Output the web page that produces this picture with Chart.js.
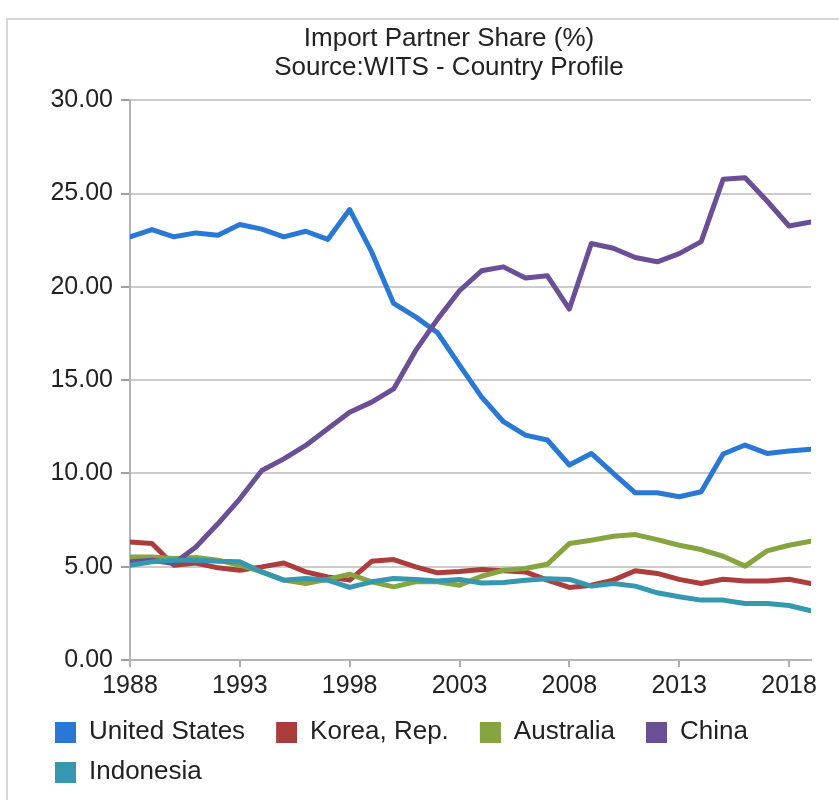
<!DOCTYPE html>
<html>
<head>
<meta charset="utf-8">
<script src="https://cdn.jsdelivr.net/npm/chart.js@4.4.1/dist/chart.umd.min.js"></script>
<style>
  html, body { margin: 0; padding: 0; background: #fff; overflow: hidden; width: 839px; height: 800px; }
  #frame { position: absolute; left: 6px; top: 18px; width: 840px; height: 790px;
           border-left: 2px solid #d6d6d6; border-top: 2px solid #d6d6d6; }
  #wrap { position: absolute; left: 0; top: 0; width: 839px; height: 800px; }
</style>
</head>
<body>
<div id="frame"></div>
<div id="wrap"><canvas id="c" width="839" height="800"></canvas></div>
<script>
// ---- data ----
const titleLines = ["Import Partner Share (%)", "Source:WITS - Country Profile"];
const years = [1988, 1989, 1990, 1991, 1992, 1993, 1994, 1995, 1996, 1997,
               1998, 1999, 2000, 2001, 2002, 2003, 2004, 2005, 2006, 2007,
               2008, 2009, 2010, 2011, 2012, 2013, 2014, 2015, 2016, 2017,
               2018, 2019];
const xTickYears = [1988, 1993, 1998, 2003, 2008, 2013, 2018];
const yTickValues = [0, 5, 10, 15, 20, 25, 30];
const seriesNames = ["United States", "Korea, Rep.", "Australia", "China", "Indonesia"];
const unitedStates = [22.68, 23.07, 22.68, 22.89, 22.77, 23.34, 23.09, 22.68, 22.98, 22.54,
                      24.14, 21.87, 19.11, 18.39, 17.54, 15.80, 14.10, 12.77, 12.05, 11.79,
                      10.45, 11.07, 10.00, 8.96, 8.96, 8.75, 9.02, 11.04, 11.52, 11.07,
                      11.20, 11.30];
const koreaRep = [6.33, 6.24, 5.08, 5.20, 4.94, 4.81, 4.99, 5.20, 4.72, 4.45,
                  4.28, 5.29, 5.38, 4.99, 4.67, 4.74, 4.85, 4.78, 4.72, 4.28,
                  3.89, 4.01, 4.28, 4.78, 4.64, 4.32, 4.10, 4.33, 4.24, 4.24,
                  4.33, 4.10];
const australia = [5.52, 5.52, 5.44, 5.50, 5.35, 5.08, 4.72, 4.28, 4.10, 4.32,
                   4.60, 4.19, 3.92, 4.19, 4.19, 4.01, 4.49, 4.81, 4.90, 5.13,
                   6.24, 6.42, 6.63, 6.72, 6.45, 6.15, 5.92, 5.56, 5.03, 5.85,
                   6.15, 6.36];
const china = [5.26, 5.35, 5.17, 6.06, 7.30, 8.64, 10.16, 10.78, 11.50, 12.39,
               13.28, 13.82, 14.53, 16.58, 18.27, 19.79, 20.86, 21.07, 20.47, 20.59,
               18.81, 22.32, 22.07, 21.57, 21.34, 21.78, 22.42, 25.76, 25.85, 24.60,
               23.26, 23.48];
const indonesia = [5.08, 5.26, 5.35, 5.35, 5.29, 5.26, 4.72, 4.28, 4.37, 4.28,
                   3.89, 4.19, 4.37, 4.32, 4.24, 4.32, 4.13, 4.15, 4.28, 4.35,
                   4.32, 3.96, 4.10, 3.96, 3.60, 3.39, 3.21, 3.21, 3.03, 3.03,
                   2.92, 2.64];
const seriesValues = [unitedStates, koreaRep, australia, china, indonesia];

// ---- styles ----
const FONT = "'Liberation Sans', Arial, sans-serif";
const lineColors = ["#2a78d6", "#ad3c3c", "#86a540", "#6b4f96", "#3597b0"];
const drawOrder = [2, 4, 3, 1, 0];

function swatch(color) {
  const c = document.createElement('canvas');
  c.width = 38; c.height = 21;
  const g = c.getContext('2d');
  g.fillStyle = color;
  g.fillRect(17, 0, 21, 21);
  return c;
}
const legendSwatches = lineColors.map(swatch);

const titleShift = {
  id: 'titleShift',
  afterLayout(chart) {
    if (chart.titleBlock) {
      chart.titleBlock.left = 87;
      chart.titleBlock.right = chart.chartArea.right;
    }
  }
};

const ctx = document.getElementById('c').getContext('2d');
new Chart(ctx, {
  type: 'line',
  data: {
    datasets: seriesNames.map((name, i) => ({
      label: name,
      data: years.map((yr, j) => ({ x: yr, y: seriesValues[i][j] })),
      borderColor: lineColors[i],
      backgroundColor: lineColors[i],
      borderWidth: 5,
      borderJoinStyle: 'round',
      borderCapStyle: 'round',
      pointRadius: 0,
      pointHoverRadius: 0,
      tension: 0,
      fill: false,
      order: drawOrder[i]
    }))
  },
  options: {
    responsive: false,
    animation: false,
    devicePixelRatio: 1,
    layout: { padding: { left: 24, right: 28, top: 0, bottom: 5 } },
    scales: {
      x: {
        type: 'linear',
        min: years[0],
        max: years[years.length - 1],
        afterBuildTicks: s => { s.ticks = xTickYears.map(v => ({ value: v })); },
        afterFit: s => { s.height = 45; },
        grid: { drawOnChartArea: false, drawTicks: true, tickLength: 7, color: '#b0b0b0', lineWidth: 2 },
        border: { display: true, color: '#b4b4b4', width: 2 },
        ticks: { font: { family: FONT, size: 25 }, color: '#222', padding: 4,
                 maxRotation: 0, autoSkip: false, callback: v => String(v) }
      },
      y: {
        min: 0,
        max: 30,
        afterBuildTicks: s => { s.ticks = yTickValues.map(v => ({ value: v })); },
        afterFit: s => { s.width = 106; },
        grid: { color: '#cccccc', lineWidth: 2, tickLength: 9, tickColor: '#a0a0a0' },
        border: { display: true, color: '#b4b4b4', width: 2 },
        ticks: { font: { family: FONT, size: 25 }, color: '#222', padding: 8,
                 callback: v => Number(v).toFixed(2) }
      }
    },
    plugins: {
      title: {
        display: true,
        text: titleLines,
        color: '#222',
        font: { family: FONT, size: 26, weight: 'normal', lineHeight: 1.12 },
        padding: { top: 24, bottom: 18 }
      },
      legend: {
        position: 'bottom',
        align: 'start',
        labels: {
          usePointStyle: true,
          pointStyleWidth: 38,
          padding: 14,
          color: '#222',
          font: { family: FONT, size: 26 },
          generateLabels: chart => {
            const items = Chart.defaults.plugins.legend.labels.generateLabels(chart);
            items.forEach(it => { it.pointStyle = legendSwatches[it.datasetIndex]; });
            return items;
          },
          sort: (a, b) => a.datasetIndex - b.datasetIndex
        }
      },
      tooltip: { enabled: false }
    }
  },
  plugins: [titleShift]
});
</script>
</body>
</html>
